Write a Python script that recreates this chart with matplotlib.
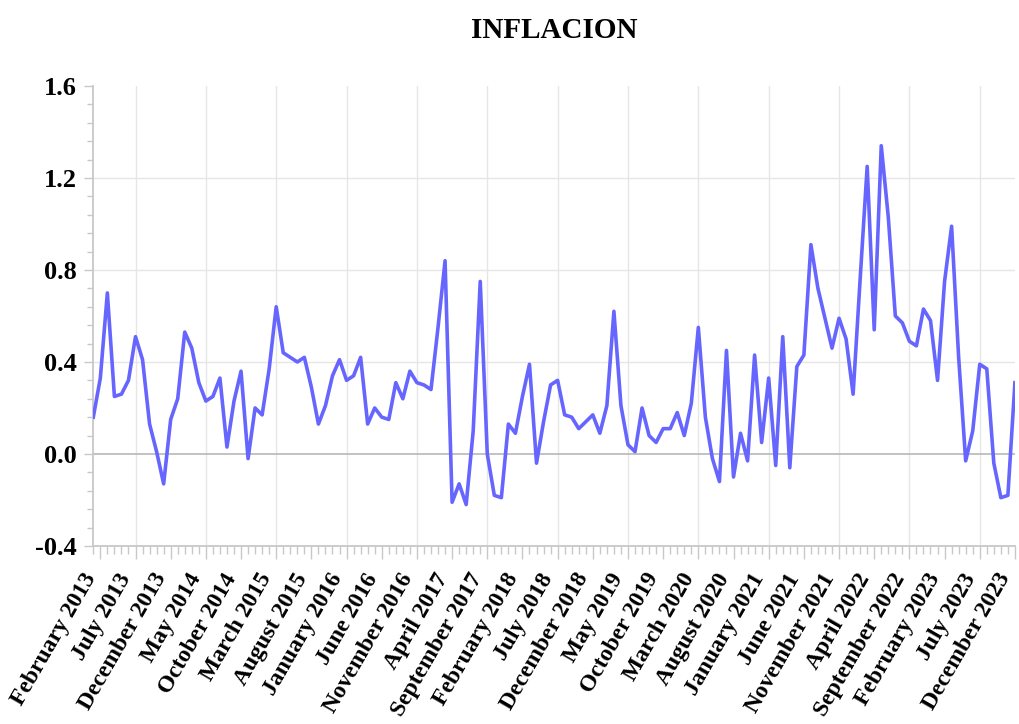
import numpy as np
import matplotlib
matplotlib.use("Agg")
import matplotlib.pyplot as plt
from matplotlib.ticker import MultipleLocator, FixedLocator

plt.rcParams['font.family'] = ['Liberation Serif', 'DejaVu Serif']
plt.rcParams['font.weight'] = 'bold'

# monthly inflation, January 2013 .. December 2023
y2013 = [0.16, 0.33, 0.70, 0.25, 0.26, 0.32, 0.51, 0.41, 0.13, 0.01, -0.13, 0.15]
y2014 = [0.24, 0.53, 0.46, 0.31, 0.23, 0.25, 0.33, 0.03, 0.23, 0.36, -0.02, 0.20]
y2015 = [0.17, 0.37, 0.64, 0.44, 0.42, 0.40, 0.42, 0.29, 0.13, 0.21, 0.34, 0.41]
y2016 = [0.32, 0.34, 0.42, 0.13, 0.20, 0.16, 0.15, 0.31, 0.24, 0.36, 0.31, 0.30]
y2017 = [0.28, 0.55, 0.84, -0.21, -0.13, -0.22, 0.10, 0.75, 0.00, -0.18, -0.19, 0.13]
y2018 = [0.09, 0.25, 0.39, -0.04, 0.14, 0.30, 0.32, 0.17, 0.16, 0.11, 0.14, 0.17]
y2019 = [0.09, 0.21, 0.62, 0.21, 0.04, 0.01, 0.20, 0.08, 0.05, 0.11, 0.11, 0.18]
y2020 = [0.08, 0.22, 0.55, 0.16, -0.02, -0.12, 0.45, -0.10, 0.09, -0.03, 0.43, 0.05]
y2021 = [0.33, -0.05, 0.51, -0.06, 0.38, 0.43, 0.91, 0.72, 0.59, 0.46, 0.59, 0.50]
y2022 = [0.26, 0.76, 1.25, 0.54, 1.34, 1.03, 0.60, 0.57, 0.49, 0.47, 0.63, 0.58]
y2023 = [0.32, 0.75, 0.99, 0.42, -0.03, 0.10, 0.39, 0.37, -0.04, -0.19, -0.18, 0.31]

values = y2013 + y2014 + y2015 + y2016 + y2017 + y2018 + y2019 + y2020 + y2021 + y2022 + y2023

months = ["January", "February", "March", "April", "May", "June", "July",
          "August", "September", "October", "November", "December"]
labels = [f"{months[m]} {2013 + y}" for y in range(11) for m in range(12)]

x = np.arange(len(values))
label_idx = list(range(1, len(values), 5))
grid_idx = list(range(6, len(values), 10))

fig = plt.figure(figsize=(10.19, 7.24), dpi=100)
ax = fig.add_axes([0.091, 0.2459, 0.905, 0.6354])

for g in grid_idx:
    ax.axvline(g, color='#e6e6e6', lw=1, zorder=0)
for g in [-0.4, 0.4, 0.8, 1.2]:
    ax.axhline(g, color='#e6e6e6', lw=1, zorder=0)
ax.axhline(0, color='#bdbdbd', lw=1.3, zorder=0)

ax.plot(x, values, color='#6666ff', lw=2.6, zorder=3)

ax.set_xlim(-0.08, 131)
ax.set_ylim(-0.4, 1.6)

ax.xaxis.set_major_locator(FixedLocator(label_idx))
ax.xaxis.set_minor_locator(MultipleLocator(1))
ax.set_xticklabels([labels[i] for i in label_idx], rotation=60, ha='right',
                   fontsize=17, fontweight='bold')
ax.yaxis.set_major_locator(MultipleLocator(0.4))
ax.yaxis.set_minor_locator(MultipleLocator(0.08))
ax.set_yticks([-0.4, 0.0, 0.4, 0.8, 1.2, 1.6])
ax.set_yticklabels(["-0.4", "0.0", "0.4", "0.8", "1.2", "1.6"], fontsize=19, fontweight='bold')

ax.tick_params(axis='x', which='major', length=9, width=1, color='#c8c8c8', pad=8)
ax.tick_params(axis='x', which='minor', length=6, width=1, color='#c8c8c8')
ax.tick_params(axis='y', which='major', length=6.5, width=1, color='#c8c8c8', pad=5)
ax.tick_params(axis='y', which='minor', length=4.5, width=1, color='#c8c8c8')

for s in ['top', 'right']:
    ax.spines[s].set_visible(False)
for s in ['left', 'bottom']:
    ax.spines[s].set_color('#c8c8c8')
    ax.spines[s].set_linewidth(1.3)

fig.text(0.5437, 1 - 30 / 724, "INFLACION", ha='center', va='center',
         fontsize=21, fontweight='bold')

fig.savefig("out.png", dpi=100)
